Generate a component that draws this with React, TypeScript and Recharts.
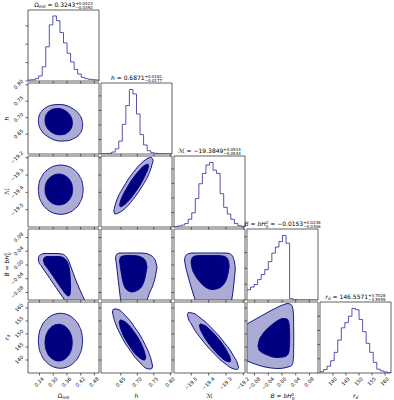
import React from 'react';
import { ComposedChart, Area, Line, XAxis, YAxis, ReferenceArea } from 'recharts';

type Tri = [number, number, number];

// ---------- axis ranges and ticks ----------
const omegaRange: [number, number] = [0.19, 0.5];
const hRange: [number, number] = [0.59, 0.805];
const mRange: [number, number] = [-19.6, -19.19];
const bRange: [number, number] = [-0.102, 0.105];
const rdRange: [number, number] = [135, 162.3];

const omegaTicks = [0.24, 0.3, 0.36, 0.42, 0.48];
const hTicks = [0.65, 0.7, 0.75, 0.8];
const mTicks = [-19.5, -19.4, -19.3, -19.2];
const bTicks = [-0.08, -0.04, 0.0, 0.04, 0.08];
const rdTicks = [140, 145, 150, 155, 160];

// ---------- 1D histograms (20 bins, relative counts) ----------
const omegaCounts = [1.6, 2, 3.6, 7.8, 22, 53, 87, 100.8, 93.5, 75, 59, 43, 29.5, 18, 10.8, 5.7, 3.6, 2.6, 2, 1.6];
const hCounts = [0.3, 0.5, 1, 3, 8, 20, 46, 75, 100, 93, 62, 30, 14, 5, 2, 1, 0.5, 0.3, 0.2, 0.1];
const mCounts = [0.5, 1.6, 3, 5.3, 12, 22, 44, 67, 83, 96, 100, 88, 83, 51.6, 30.5, 20, 12, 5.3, 2, 1];
const bCounts = [15.8, 20, 24, 31.6, 39.5, 47, 59.5, 72.6, 82, 90.5, 100, 88, 2, 0.5, 0, 0, 0, 0, 0, 0];
const rdCounts = [2, 5.3, 10.6, 19, 32, 51, 70, 78, 88, 100, 98, 83, 64, 46, 32, 16.5, 5.9, 3.2, 1.6, 0.5];

const omegaHistTicks = [0, 28.5, 57, 85.5];
const hHistTicks = [0, 22.5, 45, 67.5, 90];
const mHistTicks = [0, 22.5, 45, 67.5, 90];
const bHistTicks = [0, 24.5, 49, 73.5, 98];
const rdHistTicks = [0, 22, 44, 66, 88];

// ---------- 2D contours: [x, low y, high y] ----------
const omegaHOuter: Tri[] = [
  [0.235, 0.6905, 0.6905], [0.2379, 0.677, 0.704], [0.2496, 0.66, 0.719], [0.2738, 0.644, 0.733],
  [0.3029, 0.633, 0.739], [0.332, 0.629, 0.74], [0.3611, 0.63, 0.736], [0.3902, 0.637, 0.725],
  [0.4145, 0.65, 0.709], [0.4261, 0.665, 0.692], [0.429, 0.6785, 0.6785],
];
const omegaHInner: Tri[] = [
  [0.264, 0.692, 0.692], [0.2658, 0.6822, 0.7016], [0.273, 0.6703, 0.7125], [0.288, 0.6584, 0.7224],
  [0.306, 0.651, 0.7274], [0.324, 0.648, 0.728], [0.342, 0.6486, 0.725], [0.36, 0.6536, 0.7176],
  [0.375, 0.6635, 0.7057], [0.3822, 0.6744, 0.6938], [0.384, 0.684, 0.684],
];
const omegaMOuter: Tri[] = [
  [0.235, -19.3845, -19.3845], [0.2379, -19.4191, -19.3499], [0.2497, -19.4596, -19.3094], [0.2742, -19.4985, -19.2705],
  [0.3036, -19.5204, -19.2486], [0.333, -19.527, -19.242], [0.3624, -19.5204, -19.2486], [0.3918, -19.4985, -19.2705],
  [0.4163, -19.4596, -19.3094], [0.4281, -19.4191, -19.3499], [0.431, -19.3845, -19.3845],
];
const omegaMInner: Tri[] = [
  [0.264, -19.3835, -19.3835], [0.2658, -19.4052, -19.3618], [0.2731, -19.4307, -19.3363], [0.2882, -19.4551, -19.3119],
  [0.3064, -19.4689, -19.2981], [0.3245, -19.473, -19.294], [0.3427, -19.4689, -19.2981], [0.3608, -19.4551, -19.3119],
  [0.3759, -19.4307, -19.3363], [0.3832, -19.4052, -19.3618], [0.385, -19.3835, -19.3835],
];
const omegaBOuter: Tri[] = [
  [0.235, 0.0175, 0.0175], [0.238, 0.0073, 0.0263], [0.2468, -0.0014, 0.0307], [0.2599, -0.0145, 0.0336],
  [0.2861, -0.0399, 0.0336], [0.3122, -0.0655, 0.0336], [0.3384, -0.0912, 0.0321], [0.3515, -0.104, 0.0278],
  [0.3646, -0.1165, 0.0161], [0.3777, -0.1311, -0.0058], [0.3952, -0.1486, -0.0378], [0.417, -0.1603, -0.0728],
  [0.4389, -0.1603, -0.1049], [0.452, -0.1603, -0.1253],
];
const omegaBInner: Tri[] = [
  [0.2568, 0.0146, 0.0146], [0.262, 0.003, 0.0219], [0.273, -0.0072, 0.0248], [0.2992, -0.032, 0.0248],
  [0.3253, -0.0582, 0.0248], [0.3428, -0.0743, 0.0219], [0.3559, -0.0859, 0.0146], [0.3668, -0.0903, 0.0001],
  [0.3725, -0.0874, -0.0204], [0.3751, -0.0786, -0.0466], [0.376, -0.0641, -0.0641],
];
const omegaRdOuter: Tri[] = [
  [0.235, 147.39, 147.39], [0.2379, 144.82, 149.96], [0.2495, 141.81, 152.97], [0.2737, 138.93, 155.85],
  [0.3027, 137.3, 157.48], [0.3317, 136.81, 157.97], [0.3607, 137.3, 157.48], [0.3897, 138.93, 155.85],
  [0.4139, 141.81, 152.97], [0.4255, 144.82, 149.96], [0.4284, 147.39, 147.39],
];
const omegaRdInner: Tri[] = [
  [0.2642, 146.67, 146.67], [0.266, 144.95, 148.39], [0.2731, 142.95, 150.39], [0.288, 141.02, 152.32],
  [0.3059, 139.94, 153.41], [0.3238, 139.61, 153.73], [0.3417, 139.94, 153.41], [0.3596, 141.02, 152.32],
  [0.3745, 142.95, 150.39], [0.3816, 144.95, 148.39], [0.3834, 146.67, 146.67],
];
const hMOuter: Tri[] = [
  [0.6288, -19.5065, -19.5065], [0.6324, -19.525, -19.4764], [0.643, -19.519, -19.4204], [0.6566, -19.5036, -19.3742],
  [0.6718, -19.4759, -19.3257], [0.6869, -19.4412, -19.287], [0.702, -19.4025, -19.2506], [0.7172, -19.3569, -19.2229],
  [0.7323, -19.3055, -19.2021], [0.7414, -19.2605, -19.1975], [0.7481, -19.2143, -19.2143],
];
const hMInner: Tri[] = [
  [0.6459, -19.4747, -19.4747], [0.649, -19.4834, -19.4505], [0.6566, -19.4776, -19.4146], [0.6687, -19.458, -19.3731],
  [0.6808, -19.4331, -19.335], [0.693, -19.4014, -19.3032], [0.7051, -19.3679, -19.2749], [0.7172, -19.328, -19.2512],
  [0.7263, -19.2916, -19.2408], [0.7323, -19.2633, -19.2368], [0.734, -19.246, -19.246],
];
const hBOuter: Tri[] = [
  [0.6339, 0.0205, 0.0205], [0.6369, 0.0001, 0.0307], [0.6415, -0.0378, 0.0336], [0.6475, -0.0874, 0.035],
  [0.6536, -0.1311, 0.035], [0.7081, -0.1311, 0.035], [0.7263, -0.1078, 0.0336], [0.7384, -0.0786, 0.0292],
  [0.7475, -0.0582, 0.0234], [0.755, -0.032, 0.0117], [0.7596, -0.0058, -0.0058],
];
const hBInner: Tri[] = [
  [0.646, 0.0117, 0.0117], [0.649, -0.0087, 0.0234], [0.6566, -0.0495, 0.0263], [0.6657, -0.0699, 0.0278],
  [0.6839, -0.0786, 0.0278], [0.702, -0.0728, 0.0263], [0.7141, -0.0612, 0.0219], [0.7232, -0.0378, 0.0146],
  [0.7278, -0.0145, 0.003], [0.7293, -0.0058, -0.0058],
];
const hRdOuter: Tri[] = [
  [0.6246, 158.45, 158.45], [0.6279, 156.49, 159.57], [0.6354, 153.49, 159.61], [0.6475, 150.19, 159.11],
  [0.6627, 146.54, 157.19], [0.6778, 143.77, 155.15], [0.693, 141.0, 152.38], [0.7081, 138.96, 149.61],
  [0.7232, 137.04, 145.96], [0.7353, 136.54, 142.61], [0.7429, 136.58, 139.65], [0.7461, 137.69, 137.69],
];
const hRdInner: Tri[] = [
  [0.6451, 154.38, 154.38], [0.6481, 152.69, 155.42], [0.6551, 150.11, 155.19], [0.6657, 147.5, 154.42],
  [0.6778, 145.07, 152.92], [0.6899, 142.88, 150.88], [0.702, 141.34, 148.61], [0.7141, 140.23, 145.65],
  [0.7217, 139.96, 143.08], [0.7257, 141.0, 141.0],
];
const mBOuter: Tri[] = [
  [-19.5394, 0.0146, 0.0146], [-19.5336, -0.0029, 0.0263], [-19.5192, -0.032, 0.0321], [-19.4961, -0.0728, 0.035],
  [-19.473, -0.1078, 0.035], [-19.4499, -0.1369, 0.035], [-19.3055, -0.1369, 0.035], [-19.2824, -0.1369, 0.0336],
  [-19.2668, -0.102, 0.0292], [-19.2564, -0.0641, 0.019], [-19.2477, -0.0204, -0.0029], [-19.2461, -0.0116, -0.0116],
];
const mBInner: Tri[] = [
  [-19.5018, 0.0088, 0.0088], [-19.4961, -0.0087, 0.0205], [-19.4787, -0.0291, 0.0263], [-19.4499, -0.0495, 0.0278],
  [-19.4152, -0.0655, 0.0278], [-19.3806, -0.0714, 0.0278], [-19.3459, -0.0684, 0.0278], [-19.317, -0.0582, 0.0263],
  [-19.2968, -0.0408, 0.0219], [-19.2853, -0.0174, 0.0117], [-19.2812, -0.0029, -0.0029],
];
const mRdOuter: Tri[] = [
  [-19.5226, 157.53, 157.53], [-19.5163, 155.76, 158.3], [-19.5018, 154.07, 158.15], [-19.4787, 151.3, 157.72],
  [-19.4499, 148.73, 156.26], [-19.421, 146.27, 154.8], [-19.3921, 144.07, 152.92], [-19.3632, 142.11, 150.92],
  [-19.3344, 140.11, 148.84], [-19.3055, 138.65, 146.34], [-19.2766, 137.19, 143.88], [-19.2535, 136.54, 141.27],
  [-19.2362, 136.35, 139.19], [-19.2269, 137.08, 137.08],
];
const mRdInner: Tri[] = [
  [-19.4533, 153.19, 153.19], [-19.4487, 151.92, 153.84], [-19.4383, 150.46, 153.69], [-19.421, 148.34, 153.26],
  [-19.3979, 146.15, 151.99], [-19.3748, 144.23, 150.53], [-19.3517, 142.5, 148.84], [-19.3286, 141.04, 146.92],
  [-19.3055, 139.81, 144.69], [-19.2882, 139.38, 142.61], [-19.2766, 139.23, 141.0], [-19.2731, 139.88, 139.88],
];
const bRdOuter: Tri[] = [
  [-0.1224, 140.76, 152.3], [-0.102, 139.61, 153.84], [-0.0787, 138.46, 155.57], [-0.0554, 137.5, 157.3],
  [-0.032, 136.92, 159.03], [-0.0116, 136.73, 160.38], [0.0059, 136.92, 161.34], [0.0175, 137.31, 161.72],
  [0.0263, 137.69, 161.34], [0.0312, 138.65, 159.99], [0.0336, 141.15, 157.3], [0.0344, 149.23, 149.23],
];
const bRdInner: Tri[] = [
  [-0.0699, 145.38, 145.38], [-0.067, 143.84, 147.3], [-0.0583, 142.88, 149.61], [-0.0466, 142.11, 151.53],
  [-0.032, 141.34, 153.26], [-0.0146, 140.96, 155.0], [0.0029, 141.15, 155.96], [0.0146, 141.73, 155.76],
  [0.0198, 142.88, 154.61], [0.0219, 145.38, 151.92], [0.0225, 148.46, 148.46],
];

// ---------- assembly ----------
interface Param { range: [number, number]; ticks: number[]; dec: number; }
const P: Param[] = [
  { range: omegaRange, ticks: omegaTicks, dec: 2 },
  { range: hRange, ticks: hTicks, dec: 2 },
  { range: mRange, ticks: mTicks, dec: 1 },
  { range: bRange, ticks: bTicks, dec: 2 },
  { range: rdRange, ticks: rdTicks, dec: 0 },
];
const hists = [omegaCounts, hCounts, mCounts, bCounts, rdCounts];
const histTicks = [omegaHistTicks, hHistTicks, mHistTicks, bHistTicks, rdHistTicks];
const contours: Record<string, { outer: Tri[]; inner: Tri[] }> = {
  '1-0': { outer: omegaHOuter, inner: omegaHInner },
  '2-0': { outer: omegaMOuter, inner: omegaMInner },
  '3-0': { outer: omegaBOuter, inner: omegaBInner },
  '4-0': { outer: omegaRdOuter, inner: omegaRdInner },
  '2-1': { outer: hMOuter, inner: hMInner },
  '3-1': { outer: hBOuter, inner: hBInner },
  '4-1': { outer: hRdOuter, inner: hRdInner },
  '3-2': { outer: mBOuter, inner: mBInner },
  '4-2': { outer: mRdOuter, inner: mRdInner },
  '4-3': { outer: bRdOuter, inner: bRdInner },
};

const NAVY = '#000080';
const HISTC = '#2a2a9c';
const LIGHT = '#ababd5';
const FRAME = '#3a3a3a';
const FONT = 'DejaVu Sans';
const PW = 71;
const COL0 = 28;
const ROW0 = 10;
const STEP = 73;
const YW = 26;
const XH = 24;
const MT = 8;
const MR = 12;
const TICK = 2.5;
const FS = 5;

const fmt = (v: number, d: number) => (v < -1e-9 ? '\u2212' : '') + Math.abs(v).toFixed(d);
const cw = (s: string) => {
  let w = 0;
  for (const ch of s) w += ch === '.' ? 0.318 : ch === '\u2212' ? 0.838 : 0.636;
  return w;
};

const makeXTick = (d: number, show: boolean) => (p: any) => {
  if (!show) return <g />;
  const s = fmt(p.payload.value, d);
  const L = cw(s) * FS;
  const bottom = p.y - TICK;
  const ax = p.x + 0.354 * L + 0.178 * FS;
  const ay = bottom + TICK + 1.2 + 0.516 * FS;
  return (
    <text x={ax} y={ay} textAnchor="end" fontSize={FS} fontFamily={FONT} fill="#000" transform={`rotate(-45 ${ax} ${ay})`}>
      {s}
    </text>
  );
};
const makeYTick = (d: number, show: boolean) => (p: any) => {
  if (!show) return <g />;
  const s = fmt(p.payload.value, d);
  const L = cw(s) * FS;
  const left = p.x + TICK;
  const ax = left - TICK - 1 - 0.16 * FS;
  const ay = p.y - 0.354 * L + 0.178 * FS;
  return (
    <text x={ax} y={ay} textAnchor="end" fontSize={FS} fontFamily={FONT} fill="#000" transform={`rotate(-45 ${ax} ${ay})`}>
      {s}
    </text>
  );
};

function Panel({ row, col }: { row: number; col: number }) {
  const px = P[col];
  const diag = row === col;
  const showX = row === 4;
  const showY = col === 0 && row > 0;
  let data: any[];
  let yDomain: [number, number];
  let yTicks: number[];
  if (diag) {
    const counts = hists[col];
    const [lo, hi] = px.range;
    const w = (hi - lo) / counts.length;
    data = counts.map((c, i) => ({ x: lo + i * w, y: c }));
    data.push({ x: hi, y: counts[counts.length - 1] });
    yDomain = [0, 110];
    yTicks = histTicks[col];
  } else {
    const c = contours[`${row}-${col}`];
    data = [
      ...c.outer.map(([x, a, b]) => ({ x, o: [a, b] })),
      ...c.inner.map(([x, a, b]) => ({ x, i: [a, b] })),
    ].sort((p, q) => p.x - q.x);
    yDomain = P[row].range;
    yTicks = P[row].ticks;
  }
  const yDec = diag ? 0 : P[row].dec;
  return (
    <div style={{ position: 'absolute', left: COL0 + col * STEP - YW, top: ROW0 + row * STEP - MT }}>
      <ComposedChart width={YW + PW + MR} height={MT + PW + XH} data={data} margin={{ top: MT, right: MR, bottom: 0, left: 0 }}>
        <XAxis
          type="number"
          dataKey="x"
          domain={px.range}
          allowDataOverflow
          ticks={px.ticks}
          interval={0}
          height={XH}
          tickSize={TICK}
          tickMargin={0}
          axisLine={false}
          stroke={FRAME}
          tickLine={{ stroke: FRAME, strokeWidth: 0.8 }}
          tick={makeXTick(px.dec, showX)}
        />
        <YAxis
          type="number"
          domain={yDomain}
          allowDataOverflow
          ticks={yTicks}
          interval={0}
          width={YW}
          tickSize={TICK}
          tickMargin={0}
          axisLine={false}
          stroke={FRAME}
          tickLine={{ stroke: FRAME, strokeWidth: 0.8 }}
          tick={makeYTick(yDec, showY)}
        />
        {diag ? (
          <Line
            dataKey="y"
            type="stepAfter"
            stroke={HISTC}
            strokeWidth={0.8}
            dot={false}
            activeDot={false}
            isAnimationActive={false}
          />
        ) : null}
        {!diag ? (
          <Area
            dataKey="o"
            type="monotone"
            fill={LIGHT}
            fillOpacity={1}
            stroke={NAVY}
            strokeWidth={0.9}
            connectNulls
            dot={false}
            activeDot={false}
            isAnimationActive={false}
          />
        ) : null}
        {!diag ? (
          <Area
            dataKey="i"
            type="monotone"
            fill={NAVY}
            fillOpacity={1}
            stroke={NAVY}
            strokeWidth={0.9}
            connectNulls
            dot={false}
            activeDot={false}
            isAnimationActive={false}
          />
        ) : null}
        <ReferenceArea
          x1={px.range[0]}
          x2={px.range[1]}
          y1={yDomain[0]}
          y2={yDomain[1]}
          fill="none"
          stroke={FRAME}
          strokeWidth={0.8}
          ifOverflow="visible"
        />
      </ComposedChart>
    </div>
  );
}

const SUPW = 4.336 * 4; // width of a 7-char script number at 4px

function Scripts({ up, down }: { up: string; down: string }) {
  return (
    <>
      <tspan fontSize={4} dy={-2.4}>{up}</tspan>
      <tspan fontSize={4} dx={-SUPW} dy={4.6}>{down}</tspan>
    </>
  );
}

function Overlay() {
  const cx = (c: number) => COL0 + c * STEP + PW / 2;
  const cy = (r: number) => ROW0 + r * STEP + PW / 2;
  const tY = (r: number) => ROW0 + r * STEP - 3;
  const bottomY = 398;
  const leftX = 9;
  const LS = 6;
  return (
    <svg width={394} height={400} style={{ position: 'absolute', left: 0, top: 0, pointerEvents: 'none' }} fontFamily={FONT}>
      {/* titles */}
      <text x={cx(0)} y={tY(0)} fontSize={6} textAnchor="middle">
        Ω<tspan fontSize={4.2} fontStyle="italic" dy={1.2}>m0</tspan>
        <tspan dy={-1.2}> = 0.3243</tspan>
        <Scripts up="+0.0423" down={'\u22120.0392'} />
      </text>
      <text x={cx(1)} y={tY(1)} fontSize={6} textAnchor="middle">
        <tspan fontStyle="italic">h</tspan>
        <tspan> = 0.6871</tspan>
        <Scripts up="+0.0181" down={'\u22120.0177'} />
      </text>
      <text x={cx(2)} y={tY(2)} fontSize={6} textAnchor="middle">
        <tspan>ℳ</tspan>
        <tspan> = {'\u2212'}19.3849</tspan>
        <Scripts up="+0.0534" down={'\u22120.0544'} />
      </text>
      <text x={cx(3)} y={tY(3)} fontSize={6} textAnchor="middle">
        <tspan fontStyle="italic">B</tspan>
        <tspan> = </tspan>
        <tspan fontStyle="italic">bH</tspan>
        <tspan fontSize={4} dy={-2.4}>2</tspan>
        <tspan fontSize={4} dx={-2.5} dy={4.6}>0</tspan>
        <tspan dy={-2.2}> = {'\u2212'}0.0153</tspan>
        <Scripts up="+0.0238" down={'\u22120.0406'} />
      </text>
      <text x={cx(4)} y={tY(4)} fontSize={6} textAnchor="middle">
        <tspan fontStyle="italic">r</tspan>
        <tspan fontSize={4.2} fontStyle="italic" dy={1.2}>d</tspan>
        <tspan dy={-1.2}> = 146.5571</tspan>
        <Scripts up="+3.7028" down={'\u22123.5959'} />
      </text>

      {/* bottom axis labels */}
      <text x={cx(0)} y={bottomY} fontSize={LS} textAnchor="middle">
        Ω<tspan fontSize={4.2} fontStyle="italic" dy={1.2}>m0</tspan>
      </text>
      <text x={cx(1)} y={bottomY} fontSize={LS} textAnchor="middle" fontStyle="italic">h</text>
      <text x={cx(2)} y={bottomY} fontSize={LS} textAnchor="middle">ℳ</text>
      <text x={cx(3)} y={bottomY} fontSize={LS} textAnchor="middle">
        <tspan fontStyle="italic">B</tspan> = <tspan fontStyle="italic">bH</tspan>
        <tspan fontSize={4} dy={-2.4}>2</tspan>
        <tspan fontSize={4} dx={-2.5} dy={4.6}>0</tspan>
      </text>
      <text x={cx(4)} y={bottomY} fontSize={LS} textAnchor="middle">
        <tspan fontStyle="italic">r</tspan>
        <tspan fontSize={4.2} fontStyle="italic" dy={1.2}>d</tspan>
      </text>

      {/* left axis labels */}
      <text x={leftX} y={cy(1)} fontSize={LS} textAnchor="middle" fontStyle="italic" transform={`rotate(-90 ${leftX} ${cy(1)})`}>h</text>
      <text x={leftX} y={cy(2)} fontSize={LS} textAnchor="middle" transform={`rotate(-90 ${leftX} ${cy(2)})`}>ℳ</text>
      <text x={leftX} y={cy(3)} fontSize={LS} textAnchor="middle" transform={`rotate(-90 ${leftX} ${cy(3)})`}>
        <tspan fontStyle="italic">B</tspan> = <tspan fontStyle="italic">bH</tspan>
        <tspan fontSize={4} dy={-2.4}>2</tspan>
        <tspan fontSize={4} dx={-2.5} dy={4.6}>0</tspan>
      </text>
      <text x={leftX} y={cy(4)} fontSize={LS} textAnchor="middle" transform={`rotate(-90 ${leftX} ${cy(4)})`}>
        <tspan fontStyle="italic">r</tspan>
        <tspan fontSize={4.2} fontStyle="italic" dy={1.2}>d</tspan>
      </text>
    </svg>
  );
}

export default function App() {
  const cells: { row: number; col: number }[] = [];
  for (let r = 0; r < 5; r++) for (let c = 0; c <= r; c++) cells.push({ row: r, col: c });
  return (
    <div style={{ position: 'absolute', left: 0, top: 0, width: 394, height: 400, background: '#fff', overflow: 'hidden' }}>
      {cells.map(({ row, col }) => (
        <Panel key={`${row}-${col}`} row={row} col={col} />
      ))}
      <Overlay />
    </div>
  );
}
